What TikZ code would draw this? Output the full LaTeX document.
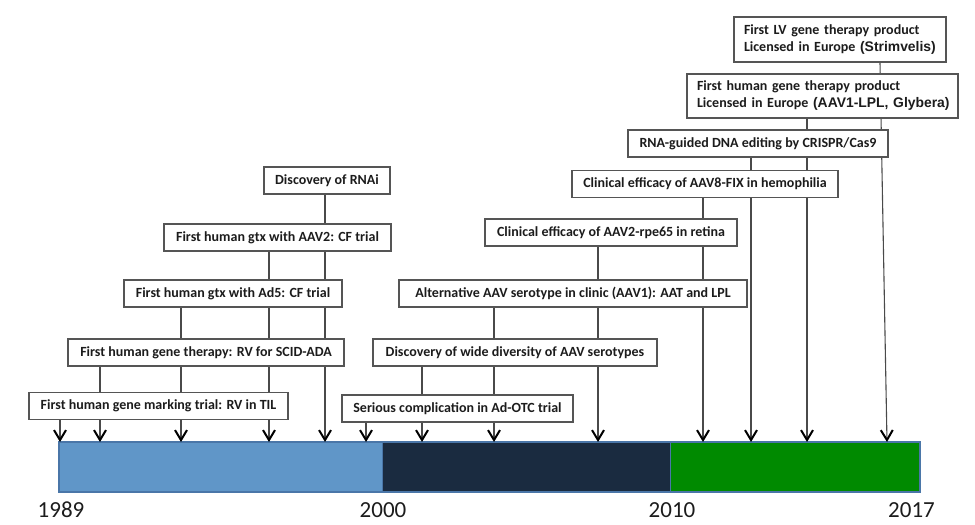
\documentclass[tikz,border=0pt]{standalone}
\usepackage{fontspec}
\setmainfont{Carlito}
\newfontfamily\arialf{Liberation Sans}
\usetikzlibrary{arrows.meta,backgrounds}
\definecolor{barblue}{HTML}{6096C8}
\definecolor{barnavy}{HTML}{1A2B40}
\definecolor{bargreen}{HTML}{008A00}
\definecolor{baredge}{HTML}{4A76A8}
\definecolor{boxedge}{HTML}{555555}
\definecolor{lineclr}{HTML}{4A4A4A}
\definecolor{txt}{HTML}{1C1C1C}
\newcommand{\arialpart}[1]{{\arialf\bfseries\fontsize{13.9}{17}\selectfont #1}}
\begin{document}
\begin{tikzpicture}[x=1pt,y=-1pt,
  evbox/.style={draw=boxedge, line width=1.2pt, fill=white, inner sep=0pt,
    minimum height=27pt, text=txt, font=\fontsize{14}{17}\selectfont\bfseries},
  evboxtwo/.style={evbox, align=left, inner xsep=10pt, inner ysep=0pt},
  conn/.style={draw=lineclr, line width=1.1pt,
    -{Straight Barb[length=10pt,width=12pt,line width=2pt,color=black]}},
  yearlbl/.style={font=\fontsize{23}{23}\selectfont, text=txt, anchor=base},
]
\useasboundingbox (0,0) rectangle (975,525);

% event boxes
\node[evbox, minimum width=259pt] (b1) at (158.5,406) {First human gene marking trial: RV in TIL};
\node[evbox, minimum width=276pt] (b2) at (206,352.5) {First human gene therapy: RV for SCID-ADA};
\node[evbox, minimum width=218pt] (b3) at (233,293.5) {First human gtx with Ad5: CF trial};
\node[evbox, minimum width=227pt] (b4) at (277.5,237.5) {First human gtx with AAV2: CF trial};
\node[evbox, minimum width=126pt] (b5) at (327,180.5) {Discovery of RNAi};
\node[evbox, minimum width=231pt] (b6) at (457.5,408.5) {Serious complication in Ad-OTC trial};
\node[evbox, minimum width=284pt] (b7) at (515,352.5) {Discovery of wide diversity of AAV serotypes};
\node[evbox, minimum width=348pt] (b8) at (573,293.5) {Alternative AAV serotype in clinic (AAV1): AAT and LPL};
\node[evbox, minimum width=252pt] (b9) at (611,232.5) {Clinical efficacy of AAV2-rpe65 in retina};
\node[evbox, minimum width=266pt] (b10) at (705,184) {Clinical efficacy of AAV8-FIX in hemophilia};
\node[evbox, minimum width=260pt] (b11) at (758,143.5) {RNA-guided DNA editing by CRISPR/Cas9};
\node[evboxtwo, text width=251pt, minimum height=44pt] (b12) at (822.5,96)
  {First human gene therapy product\\\mbox{Licensed in Europe \arialpart{(AAV1-LPL, Glybera)}}};
\node[evboxtwo, text width=192pt, minimum height=45pt] (b13) at (840,39.5)
  {First LV gene therapy product\\\mbox{Licensed in Europe \arialpart{(Strimvelis)}}};

% arrow targets on the bar
\coordinate (t1) at (60,442);
\coordinate (t2) at (100,442);
\coordinate (t3) at (181,442);
\coordinate (t4) at (269,442);
\coordinate (t5) at (325,442);
\coordinate (t6) at (366,442);
\coordinate (t7) at (422,442);
\coordinate (t8) at (494,442);
\coordinate (t9) at (598,442);
\coordinate (t10) at (703,442);
\coordinate (t11) at (751,442);
\coordinate (t12) at (807,442);
\coordinate (t13) at (887,442);
\coordinate (s13) at (880,62);

\begin{pgfonlayer}{background}
  % timeline bar
  \fill[barblue] (59,442) rectangle (382,492);
  \fill[barnavy] (382,442) rectangle (670,492);
  \fill[bargreen] (670,442) rectangle (920,492);
  \draw[baredge, line width=0.8pt] (382,442) -- (382,492) (670,442) -- (670,492);
  \draw[baredge, line width=1.5pt] (59,442) rectangle (920,492);
  % connectors
  \draw[conn] (b1.south -| t1) -- (t1);
  \draw[conn] (b2.south -| t2) -- (t2);
  \draw[conn] (b3.south -| t3) -- (t3);
  \draw[conn] (b4.south -| t4) -- (t4);
  \draw[conn] (b5.south -| t5) -- (t5);
  \draw[conn] (b6.south -| t6) -- (t6);
  \draw[conn] (b7.south -| t7) -- (t7);
  \draw[conn] (b8.south -| t8) -- (t8);
  \draw[conn] (b9.south -| t9) -- (t9);
  \draw[conn] (b10.south -| t10) -- (t10);
  \draw[conn] (b11.south -| t11) -- (t11);
  \draw[conn] (b12.south -| t12) -- (t12);
  \draw[conn] (b13.south -| s13) -- (t13);
\end{pgfonlayer}

% year labels
\node[yearlbl] (y1989) at (61,517) {1989};
\node[yearlbl] (y2000) at (383,517) {2000};
\node[yearlbl] (y2010) at (672,517) {2010};
\node[yearlbl] (y2017) at (911.5,517) {2017};
\end{tikzpicture}
\end{document}
